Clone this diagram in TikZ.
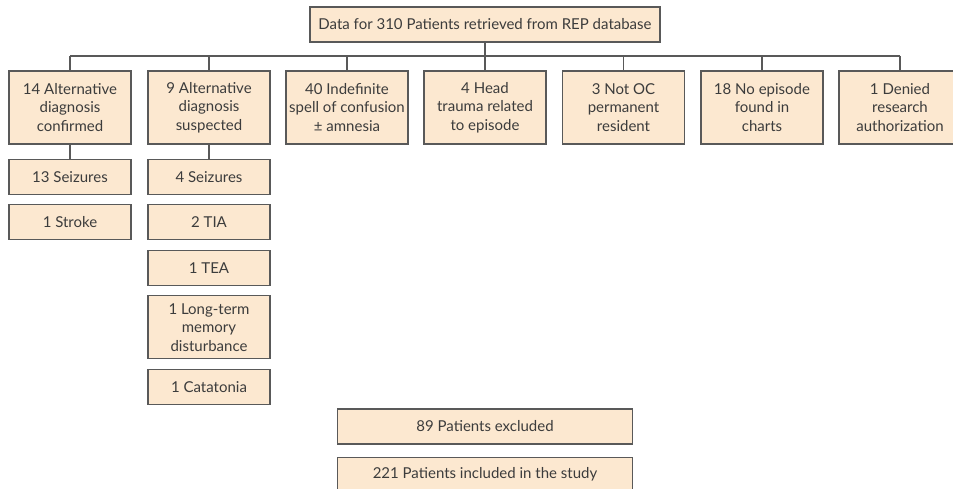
\documentclass[tikz,border=0pt]{standalone}
\usepackage{fontspec}
\setmainfont{Lato}
\usepackage{xcolor}
\usepackage{tikz}
\usetikzlibrary{positioning}
\definecolor{Peach}{HTML}{FCE8D0}
\definecolor{BoxLine}{HTML}{595959}
\definecolor{Ink}{HTML}{3C3C3C}

\begin{document}
\begin{tikzpicture}[
  x=1pt,y=-1pt,
  node distance=9.5pt,
  every node/.style={font=\fontsize{15}{18.7}\selectfont,text=Ink,align=center},
  box/.style={draw=BoxLine,fill=Peach,line width=1.1pt,minimum width=122pt,minimum height=35pt,inner sep=2pt},
  tallbox/.style={box,minimum height=73pt},
  widebox/.style={box,minimum width=295pt},
  link/.style={draw=BoxLine,line width=1.1pt}
]
\useasboundingbox (0,0) rectangle (953,489);
\node[box,minimum width=350pt] (all) at (485,24.5) {Data for 310 Patients retrieved from REP database};
\coordinate (bus) at (485,56);
% excluded groups
\node[tallbox] (c1) at (70,107.5) {14 Alternative\\diagnosis\\confirmed};
\node[tallbox] (c2) at (209,107.5) {9 Alternative\\diagnosis\\suspected};
\node[tallbox] (c3) at (347,107.5) {40 Indefinite\\spell of confusion\\± amnesia};
\node[tallbox] (c4) at (485,107.5) {4 Head\\trauma related\\to episode};
\node[tallbox] (c5) at (623.5,107.5) {3 Not OC\\permanent\\resident};
\node[tallbox] (c6) at (762,107.5) {18 No episode\\found in\\charts};
\node[tallbox] (c7) at (900,107.5) {1 Denied\\research\\authorization};
\draw[link] (all.south) -- (bus);
\draw[link] (c1.north |- bus) -- (c7.north |- bus);
\foreach \c in {c1,c2,c3,c4,c5,c6,c7}
  \draw[link] (\c.north |- bus) -- (\c.north);
% confirmed
\node[box,below=14pt of c1] (c1a) {13 Seizures};
\node[box,below=of c1a] (c1b) {1 Stroke};
\draw[link] (c1) -- (c1a);
% suspected
\node[box,below=14pt of c2] (c2a) {4 Seizures};
\node[box,below=of c2a] (c2b) {2 TIA};
\node[box,below=of c2b] (c2c) {1 TEA};
\node[box,below=of c2c,minimum height=63pt] (c2d) {1 Long-term\\memory\\disturbance};
\node[box,below=of c2d] (c2e) {1 Catatonia};
\draw[link] (c2) -- (c2a);
% totals
\node[widebox] (excl) at (485,426.5) {89 Patients excluded};
\node[widebox,below=12pt of excl] (incl) {221 Patients included in the study};
\end{tikzpicture}
\end{document}
